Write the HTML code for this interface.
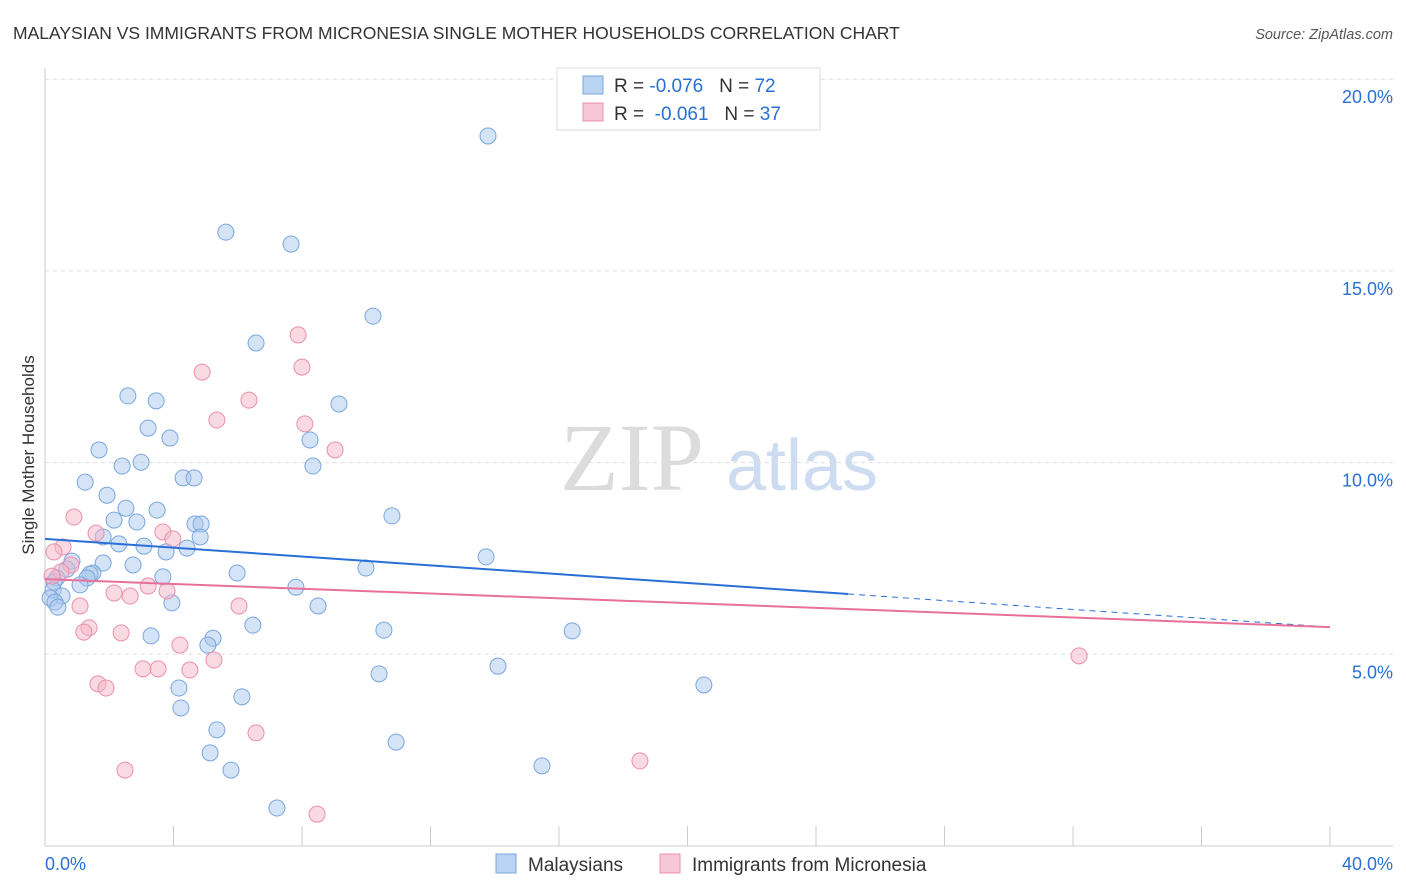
<!DOCTYPE html>
<html><head><meta charset="utf-8"><style>
body{margin:0;background:#fff;font-family:"Liberation Sans",sans-serif;}
</style></head><body>
<svg id="chart" width="1406" height="892" xmlns="http://www.w3.org/2000/svg" style="display:block">
<text x="13" y="39" font-size="17.5" fill="#333">MALAYSIAN VS IMMIGRANTS FROM MICRONESIA SINGLE MOTHER HOUSEHOLDS CORRELATION CHART</text>
<text x="1393" y="39" font-size="14.5" fill="#555" font-style="italic" text-anchor="end">Source: ZipAtlas.com</text>
<g>
<text x="632" y="490" font-size="96" fill="#dcdcdc" font-family="Liberation Serif,serif" text-anchor="middle">ZIP</text>
<text x="802" y="490" font-size="72" fill="#cddcf0" text-anchor="middle">atlas</text>
</g>
<g id="grid"></g>
<g id="axes"></g>
<g id="pts"></g>
<g id="lines"></g>
<text transform="translate(34,455) rotate(-90)" font-size="17" fill="#333" text-anchor="middle">Single Mother Households</text>
<g>
<rect x="557" y="68" width="263" height="62" fill="#fff" stroke="#ddd"/>
<rect x="583" y="76" width="20" height="18" fill="#b9d3f3" stroke="#7aa7de"/>
<rect x="583" y="103" width="20" height="18" fill="#f8c7d5" stroke="#ec8fae"/>
<text x="614" y="92" font-size="19" fill="#333">R = <tspan fill="#2a6fd6">-0.076</tspan>&#160;&#160;&#160;N = <tspan fill="#2a6fd6">72</tspan></text>
<text x="614" y="120" font-size="19" fill="#333">R = &#160;<tspan fill="#2a6fd6">-0.061</tspan>&#160;&#160;&#160;N = <tspan fill="#2a6fd6">37</tspan></text>
</g>
<g>
<rect x="496" y="854" width="20" height="19" fill="#b9d3f3" stroke="#7aa7de"/>
<text x="528" y="871" font-size="19" fill="#333">Malaysians</text>
<rect x="660" y="854" width="20" height="19" fill="#f8c7d5" stroke="#ec8fae"/>
<text x="692" y="871" font-size="19" fill="#333">Immigrants from Micronesia</text>
</g>
</svg>
<script>
const blueX=[13.79,5.63,7.66,10.21,6.57,2.58,3.46,9.15,3.21,3.89,8.25,1.68,2.40,2.99,8.34,4.30,4.64,1.25,1.93,2.52,3.49,10.80,2.15,2.86,4.67,4.86,1.81,4.83,2.30,3.08,4.42,3.77,13.73,0.84,1.81,2.74,9.99,0.68,1.49,1.40,5.98,0.37,1.31,3.67,0.28,1.09,7.81,0.25,0.53,0.16,0.31,3.95,8.50,0.40,6.47,10.55,16.41,3.30,5.23,5.07,14.10,10.40,4.17,20.51,6.13,4.23,5.35,10.93,5.14,15.47,5.79,7.22];
const blueY=[18.52,16.01,15.70,13.82,13.12,11.74,11.61,11.53,10.90,10.64,10.59,10.33,9.91,10.01,9.91,9.60,9.60,9.49,9.15,8.81,8.76,8.61,8.50,8.45,8.40,8.40,8.06,8.06,7.88,7.82,7.77,7.67,7.54,7.43,7.38,7.33,7.25,7.22,7.12,7.09,7.12,6.99,6.99,7.02,6.89,6.81,6.75,6.68,6.52,6.47,6.36,6.34,6.26,6.23,5.76,5.63,5.61,5.48,5.42,5.24,4.69,4.49,4.12,4.20,3.89,3.60,3.03,2.71,2.43,2.09,1.98,0.99];
const pinkX=[7.88,4.89,8.00,6.35,5.35,8.09,9.03,0.90,1.59,3.67,3.98,0.56,0.28,0.81,0.50,0.22,3.21,3.80,2.15,2.65,1.09,6.04,1.37,1.21,2.37,4.20,5.26,3.05,3.52,4.51,1.65,1.90,6.57,18.52,2.49,8.47,32.19];
const pinkY=[13.33,12.36,12.49,11.63,11.11,11.01,10.33,8.58,8.16,8.19,8.01,7.80,7.67,7.33,7.15,7.04,6.78,6.65,6.60,6.52,6.26,6.26,5.69,5.58,5.56,5.24,4.85,4.62,4.62,4.59,4.23,4.12,2.95,2.22,1.98,0.83,4.96];
const blueTrend=[8.01,5.71]; const blueSolidEnd=25;
const pinkTrend=[6.96,5.71];
const yTicks=[5,10,15,20];
const xTickLabels=["0.0%","40.0%"];
const NS="http://www.w3.org/2000/svg";
const sx=v=>45+v/40*1285, sy=v=>846-v/5*191.7;
function mk(tag,attrs,parent){const e=document.createElementNS(NS,tag);for(const k in attrs)e.setAttribute(k,attrs[k]);document.getElementById(parent).appendChild(e);return e;}
yTicks.forEach(t=>{
 const g=mk('line',{x1:45,x2:1393,y1:sy(t),y2:sy(t),stroke:'#ddd','stroke-dasharray':'4,4'},'grid');
 
 
 const l=mk('text',{x:1393,y:sy(t)+24,'font-size':18,fill:'#2a6fd6','text-anchor':'end'},'axes');l.textContent=t.toFixed(1)+'%';
 
 
});
mk('line',{x1:45,x2:45,y1:68,y2:846,stroke:'#ccc'},'axes');
mk('line',{x1:45,x2:1393,y1:846,y2:846,stroke:'#ccc'},'axes');
for(let i=0;i<=10;i++){const t=mk('line',{x1:sx(i*4),x2:sx(i*4),y1:826,y2:846,stroke:'#ccc'},'axes');
 
 }
const x0=mk('text',{x:45,y:870,'font-size':18,fill:'#2a6fd6'},'axes');x0.textContent=xTickLabels[0];


const x1=mk('text',{x:1393,y:870,'font-size':18,fill:'#2a6fd6','text-anchor':'end'},'axes');x1.textContent=xTickLabels[1];


blueX.forEach((v,i)=>{const c=mk('circle',{cx:sx(v),cy:sy(blueY[i]),r:8,fill:'rgba(169,200,238,0.5)',stroke:'#7aa7de','stroke-width':1},'pts');
 
 });
pinkX.forEach((v,i)=>{const c=mk('circle',{cx:sx(v),cy:sy(pinkY[i]),r:8,fill:'rgba(244,182,200,0.5)',stroke:'#ec8fae','stroke-width':1},'pts');
 
 });
const by=x=>blueTrend[0]+(blueTrend[1]-blueTrend[0])*x/40;
const b1=mk('line',{x1:sx(0),y1:sy(blueTrend[0]),x2:sx(blueSolidEnd),y2:sy(by(blueSolidEnd)),stroke:'#2a6fd6','stroke-width':2},'lines');


const b2=mk('line',{x1:sx(blueSolidEnd),y1:sy(by(blueSolidEnd)),x2:sx(40),y2:sy(blueTrend[1]),stroke:'#2a6fd6','stroke-width':1,'stroke-dasharray':'6,5'},'lines');


const p1=mk('line',{x1:sx(0),y1:sy(pinkTrend[0]),x2:sx(40),y2:sy(pinkTrend[1]),stroke:'#e8709a','stroke-width':2},'lines');


</script>
</body></html>
